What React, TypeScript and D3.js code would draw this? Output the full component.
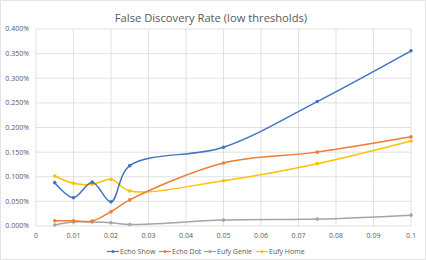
import React, { useEffect, useRef } from "react";
import * as d3 from "d3";

const thresholds = [0.005, 0.01, 0.015, 0.02, 0.025, 0.05, 0.075, 0.1];
const echoShow = [0.088, 0.0575, 0.089, 0.049, 0.1225, 0.16, 0.2527, 0.3557];
const echoDot = [0.0108, 0.0105, 0.0102, 0.029, 0.053, 0.128, 0.15, 0.181];
const eufyGenie = [0.002, 0.008, 0.008, 0.0067, 0.003, 0.012, 0.014, 0.022];
const eufyHome = [0.1016, 0.0867, 0.0847, 0.095, 0.071, 0.092, 0.1266, 0.1727];
const seriesNames = ["Echo Show", "Echo Dot", "Eufy Genie", "Eufy Home"];
const seriesColors = ["#4472C4", "#ED7D31", "#A5A5A5", "#FFC000"];
const xTicks = [0, 0.01, 0.02, 0.03, 0.04, 0.05, 0.06, 0.07, 0.08, 0.09, 0.1];
const yTicks = [0, 0.05, 0.1, 0.15, 0.2, 0.25, 0.3, 0.35, 0.4];

const App = () => {
  const ref = useRef<SVGSVGElement>(null);

  useEffect(() => {
    if (!ref.current) return;
    const svg = d3.select(ref.current);
    svg.selectAll("*").remove();

    const width = 426;
    const height = 260;
    const font = "Open Sans, sans-serif";
    const textColor = "#595959";

    svg
      .append("rect")
      .attr("x", 0.5)
      .attr("y", 0.5)
      .attr("width", width - 1)
      .attr("height", height - 1)
      .attr("fill", "#fff")
      .attr("stroke", "#e4e4e4");

    const x = d3.scaleLinear().domain([0, 0.1]).range([36, 411]);
    const y = d3.scaleLinear().domain([0, 0.4]).range([226, 29]);

    // Title
    svg
      .append("text")
      .attr("x", 211)
      .attr("y", 21.5)
      .attr("text-anchor", "middle")
      .attr("font-family", font)
      .attr("font-size", 11.2)
      .attr("fill", textColor)
      .text("False Discovery Rate (low thresholds)");

    // Grid
    const grid = svg.append("g").attr("stroke", "#d9d9d9").attr("stroke-width", 0.8);
    yTicks.forEach((t) => {
      grid.append("line").attr("x1", x(0)).attr("x2", x(0.1)).attr("y1", y(t)).attr("y2", y(t));
    });
    xTicks.forEach((t) => {
      grid.append("line").attr("x1", x(t)).attr("x2", x(t)).attr("y1", y(0)).attr("y2", y(0.4));
    });

    // Tick labels
    const labels = svg
      .append("g")
      .attr("font-family", font)
      .attr("font-size", 7)
      .attr("fill", textColor);
    yTicks.forEach((t) => {
      labels
        .append("text")
        .attr("x", 29)
        .attr("y", y(t))
        .attr("dy", "0.35em")
        .attr("text-anchor", "end")
        .text(d3.format(".3f")(t) + "%");
    });
    xTicks.forEach((t) => {
      labels
        .append("text")
        .attr("x", x(t))
        .attr("y", 238)
        .attr("text-anchor", "middle")
        .text(d3.format("~g")(t));
    });

    const allSeries = [echoShow, echoDot, eufyGenie, eufyHome];
    const line = d3
      .line<number>()
      .x((_, i) => x(thresholds[i]))
      .y((d) => y(d))
      .curve(d3.curveCatmullRom.alpha(0.5));

    // gray first so it sits below
    [2, 3, 1, 0].forEach((s) => {
      const g = svg.append("g");
      g.append("path")
        .datum(allSeries[s])
        .attr("fill", "none")
        .attr("stroke", seriesColors[s])
        .attr("stroke-width", 1.5)
        .attr("d", line);
      g.selectAll("circle")
        .data(allSeries[s])
        .join("circle")
        .attr("cx", (_, i) => x(thresholds[i]))
        .attr("cy", (d) => y(d))
        .attr("r", 1.8)
        .attr("fill", seriesColors[s]);
    });

    // Legend
    const legendX = [107, 159, 204, 256];
    const legend = svg
      .append("g")
      .attr("font-family", font)
      .attr("font-size", 7)
      .attr("fill", textColor);
    seriesNames.forEach((name, i) => {
      const lx = legendX[i];
      legend
        .append("line")
        .attr("x1", lx)
        .attr("x2", lx + 12)
        .attr("y1", 251.5)
        .attr("y2", 251.5)
        .attr("stroke", seriesColors[i])
        .attr("stroke-width", 1.2);
      legend.append("circle").attr("cx", lx + 6).attr("cy", 251.5).attr("r", 1.5).attr("fill", seriesColors[i]);
      legend
        .append("text")
        .attr("x", lx + 13)
        .attr("y", 251.5)
        .attr("dy", "0.35em")
        .text(name);
    });
  }, []);

  return (
    <svg
      ref={ref}
      width={426}
      height={260}
      style={{ position: "absolute", left: 0, top: 0 }}
    />
  );
};

export default App;
